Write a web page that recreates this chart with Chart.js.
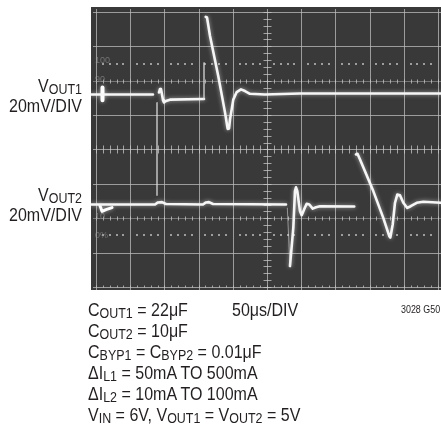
<!DOCTYPE html>
<html>
<head>
<meta charset="utf-8">
<script src="https://cdn.jsdelivr.net/npm/chart.js@4/dist/chart.umd.min.js"></script>
<style>
  html, body { margin:0; padding:0; background:#fff; }
  #wrap { position:relative; width:441px; height:425px; overflow:hidden; }
  canvas { position:absolute; left:0; top:0; }
  .t { position:absolute; font-family:"Liberation Sans", Arial, sans-serif; font-size:18px; color:#231f20; white-space:nowrap; }
  .s { position:relative; top:2px; font-size:14px; }
  .lbl { line-height:19px; text-align:right; transform:scaleX(0.89); transform-origin:right top; }
  .cond { line-height:20px; transform:scaleX(0.89); transform-origin:left top; }
</style>
</head>
<body>
<div id="wrap">
  <canvas id="c" width="441" height="425"></canvas>
  <div class="t lbl" style="right:359px; top:77px;">V<span class="s">OUT1</span><br>20mV/DIV</div>
  <div class="t lbl" style="right:359px; top:186px;">V<span class="s">OUT2</span><br>20mV/DIV</div>
  <div class="t cond" style="left:88px; top:300px;">C<span class="s">OUT1</span> = 22μF<br>C<span class="s">OUT2</span> = 10μF<br>C<span class="s">BYP1</span> = C<span class="s">BYP2</span> = 0.01μF<br>ΔI<span class="s">L1</span> = 50mA TO 500mA<br>ΔI<span class="s">L2</span> = 10mA TO 100mA<br>V<span class="s">IN</span> = 6V, V<span class="s">OUT1</span> = V<span class="s">OUT2</span> = 5V</div>
  <div class="t cond" style="left:232px; top:300px;">50μs/DIV</div>
  <div class="t cond" style="left:401px; top:305px; font-size:10px; line-height:10px;">3028 G50</div>
</div>
<script>
// time in microseconds (50 µs/DIV), amplitude in screen divisions (20 mV/DIV)
const xDivTicks = [0, 50, 100, 150, 200, 250, 300, 350, 400, 450, 500];
const yDivTicks = [-4, -3, -2, -1, 0, 1, 2, 3, 4];

const vout1T = [-7.3, 83.3, 88, 92.1, 93.6, 95.0, 96.5, 98.0, 99.4, 102.3, 108.2, 157.9, 159, 160.4, 162.3, 166.7, 178.8, 188.6, 192.5, 194.4, 195.9, 200.7, 205.7, 212.0, 217.8, 225.1, 247.1, 298.2, 504.4];
const vout1V = [1.60, 1.60, null, 1.66, 1.76, 1.75, 1.60, 1.43, 1.37, 1.41, 1.45, 1.47, null, 3.86, 3.84, 3.30, 2.13, 1.08, 0.60, 0.61, 0.87, 1.45, 1.67, 1.75, 1.70, 1.62, 1.60, 1.63, 1.63];

const vout2T = [-7.3, 86.3, 90.6, 96.5, 102.3, 156.4, 160.8, 165.2, 171.1, 277.8, 281, 283.6, 288.5, 290.9, 292.4, 294.3, 298.2, 300.7, 304.1, 308.0, 311.9, 316.8, 321.6, 327.5, 377.6, 379, 380.1, 382.3, 386.0, 405.4, 420.0, 428.8, 430.3, 433.8, 437.1, 440.5, 444.4, 449.3, 455.1, 460.1, 468.9, 478.5, 504.4];
const vout2V = [-1.60, -1.60, -1.54, -1.53, -1.585, -1.60, -1.54, -1.53, -1.585, -1.60, null, -3.39, -2.27, -1.21, -1.10, -1.21, -1.79, -1.91, -1.75, -1.58, -1.60, -1.72, -1.68, -1.65, -1.66, null, -0.145, -0.125, -0.29, -1.21, -1.99, -2.52, -2.56, -2.18, -1.55, -1.31, -1.33, -1.55, -1.70, -1.65, -1.55, -1.52, -1.55];

const faintT = [89.2, 89.2, 120, 157.9, 157.9, 220, 279.7, 283.6];
const faintV = [1.37, -1.34, null, 2.53, 1.45, null, -1.70, -3.39];

const mark1T = [9.5, 9.5];
const mark1V = [1.80, 1.43];
const mark2T = [5.8, 8.8, 14.6, 23.4];
const mark2V = [-1.63, -1.80, -1.75, -1.69];

const graticuleLabels = ["100", "90", "10", "0%"];
const graticuleLevels = [2.6, 2.05, -1.95, -2.5];

function pts(t, v) { return t.map((x, i) => ({ x: x, y: v[i] })); }

const screenPlugin = {
  id: 'screen',
  beforeDraw(chart) {
    const { ctx, chartArea: a } = chart;
    ctx.save();
    ctx.fillStyle = '#393939';
    ctx.fillRect(a.left, a.top, a.right - a.left, a.bottom - a.top);
    ctx.restore();
  },
  beforeDatasetsDraw(chart) {
    const { ctx, chartArea: a } = chart;
    const xs = chart.scales.x, ys = chart.scales.y;
    const X = v => Math.round(xs.getPixelForValue(v)) + 0.5;
    const Y = v => Math.round(ys.getPixelForValue(v)) + 0.5;
    const top = Y(4), bot = Y(-4), lef = X(0), rig = X(500);
    ctx.save();
    ctx.lineWidth = 1;
    // vertical grid
    ctx.strokeStyle = 'rgba(190,190,190,0.75)';
    xDivTicks.forEach(t => { ctx.beginPath(); ctx.moveTo(X(t), a.top + 2); ctx.lineTo(X(t), a.bottom); ctx.stroke(); });
    // horizontal grid
    yDivTicks.forEach(d => {
      if (Math.abs(d) === 2) ctx.strokeStyle = 'rgba(190,190,190,0.45)';
      else ctx.strokeStyle = 'rgba(190,190,190,0.75)';
      ctx.beginPath(); ctx.moveTo(a.left + 2, Y(d)); ctx.lineTo(a.right, Y(d)); ctx.stroke();
    });
    // minor ticks
    ctx.strokeStyle = 'rgba(200,200,200,0.75)';
    for (let k = -20; k <= 20; k++) {
      const y = Y(k * 0.2);
      ctx.beginPath(); ctx.moveTo(X(250) - 4, y); ctx.lineTo(X(250) + 4, y); ctx.stroke();
    }
    for (let t = 0; t <= 500; t += 10) {
      const x = X(t);
      ctx.beginPath(); ctx.moveTo(x, Y(0) - 4); ctx.lineTo(x, Y(0) + 4); ctx.stroke();
      ctx.beginPath(); ctx.moveTo(x, Y(2) - 2); ctx.lineTo(x, Y(2) + 2); ctx.stroke();
      ctx.beginPath(); ctx.moveTo(x, Y(-2) - 2); ctx.lineTo(x, Y(-2) + 2); ctx.stroke();
      ctx.beginPath(); ctx.moveTo(x, Y(-4) - 2); ctx.lineTo(x, Y(-4)); ctx.stroke();
    }
    // dotted 0% / 100% lines
    ctx.fillStyle = 'rgba(200,200,200,0.7)';
    [2.5, -2.5].forEach(d => {
      for (let t = 0; t <= 500; t += 10) {
        if (t % 50 === 0) continue;
        ctx.fillRect(Math.round(xs.getPixelForValue(t)) - 1, Math.round(ys.getPixelForValue(d)) - 1, 2, 2);
      }
    });
    // faint graticule labels
    ctx.fillStyle = 'rgba(160,160,160,0.55)';
    ctx.font = '9px "Liberation Sans", Arial, sans-serif';
    ctx.textBaseline = 'middle';
    graticuleLabels.forEach((s, i) => ctx.fillText(s, a.left + 4, ys.getPixelForValue(graticuleLevels[i])));
    ctx.restore();
  },
  beforeDatasetDraw(chart, args) {
    const ctx = chart.ctx;
    ctx.save();
    const ds = chart.data.datasets[args.index];
    if (ds.glow) { ctx.shadowColor = 'rgba(255,255,255,0.55)'; ctx.shadowBlur = 4; }
  },
  afterDatasetDraw(chart) { chart.ctx.restore(); }
};

const common = { pointRadius: 0, tension: 0, fill: false, spanGaps: false, borderJoinStyle: 'round', borderCapStyle: 'round' };

new Chart(document.getElementById('c'), {
  type: 'line',
  data: {
    datasets: [
      Object.assign({ label: 'faint', data: pts(faintT, faintV), borderColor: 'rgba(225,225,225,0.55)', borderWidth: 1 }, common),
      Object.assign({ label: 'VOUT1', data: pts(vout1T, vout1V), borderColor: '#f6f6f6', borderWidth: 2.6, glow: true }, common),
      Object.assign({ label: 'VOUT2', data: pts(vout2T, vout2V), borderColor: '#f6f6f6', borderWidth: 2.6, glow: true }, common),
      Object.assign({ label: 'mark1', data: pts(mark1T, mark1V), borderColor: '#ffffff', borderWidth: 4, glow: true }, common),
      Object.assign({ label: 'mark2', data: pts(mark2T, mark2V), borderColor: '#ffffff', borderWidth: 3, glow: true }, common)
    ]
  },
  options: {
    responsive: false,
    animation: false,
    devicePixelRatio: 1,
    layout: { padding: { left: 91, right: 0, top: 7, bottom: 135 } },
    plugins: { legend: { display: false }, tooltip: { enabled: false } },
    scales: {
      x: { type: 'linear', display: false, min: -7.31, max: 504.39 },
      y: { type: 'linear', display: false, min: -4.087, max: 4.145 }
    }
  },
  plugins: [screenPlugin]
});
</script>
</body>
</html>
